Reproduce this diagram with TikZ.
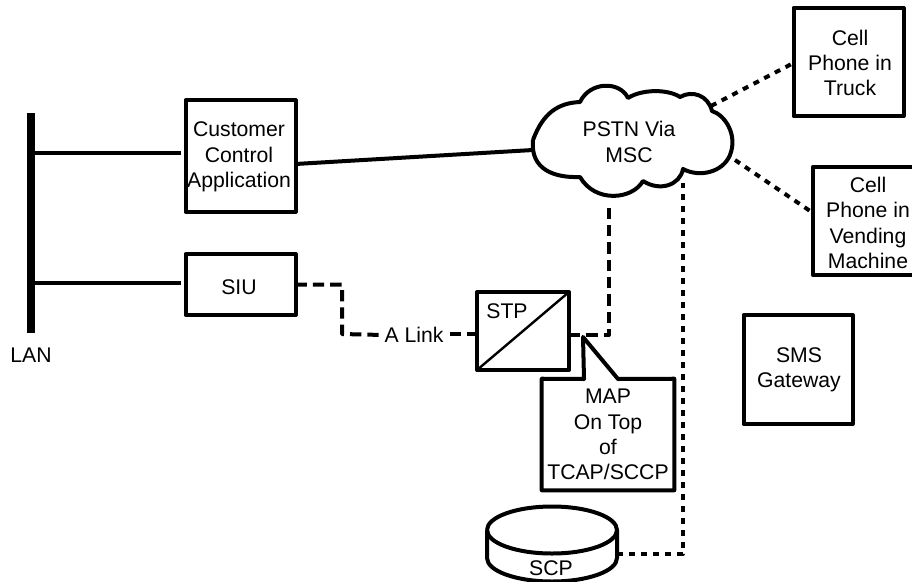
\documentclass[tikz,border=0pt]{standalone}
\usepackage{fontspec}
\setmainfont{Liberation Sans}
\usetikzlibrary{arrows}

\begin{document}
\begin{tikzpicture}[x=0.75pt,y=-0.75pt,line join=round,
                    heavy/.style={line width=3pt},
                    main node/.style={rectangle,draw,heavy,inner sep=0pt,outer sep=0pt},
                    text node/.style={inner sep=1pt,align=center,font=\fontsize{15.9}{19}\selectfont},
                    dash link/.style={heavy,dash pattern=on 8.5pt off 4.5pt},
                    dot link/.style={heavy,dash pattern=on 4.5pt off 4.5pt}]
  \useasboundingbox (0,0) rectangle (912,581);
  \clip (0,0) rectangle (912,581);
  \node[fill=black,inner sep=0pt,minimum width=6pt,minimum height=165pt] (lan) at (31,223) {};
  \node[text node] (lan label) at (31,355) {LAN};
  \node[main node,minimum width=82.5pt,minimum height=83.25pt] (customer) at (240.5,156) {};
  \node[text node] (customer label) at (239,157) {Customer\\Control\\Application};
  \node[main node,minimum width=82.5pt,minimum height=45.75pt] (siu) at (240.5,284.5) {};
  \node[text node] (siu label) at (239,287) {SIU};
  \node[main node,minimum width=69pt,minimum height=58.5pt] (stp) at (523,331) {};
  \node[text node] (stp label) at (507,311) {STP};
  \node[text node] (alink) at (414,335) {A Link};
  \node[text node] (cloud) at (629,142) {PSTN Via\\MSC};
  \node[main node,minimum width=82.5pt,minimum height=81.4pt] (truck) at (848.5,62) {};
  \node[text node] (truck label) at (850,63) {Cell\\Phone in\\Truck};
  \node[main node,minimum width=82.5pt,minimum height=81.4pt] (vending) at (868,221) {};
  \node[text node] (vending label) at (868,223) {Cell\\Phone in\\Vending\\Machine};
  \node[main node,minimum width=81.75pt,minimum height=81.75pt] (sms) at (798,369.5) {};
  \node[text node] (sms label) at (799,370) {SMS\\Gateway};
  \node[text node,minimum width=99pt,minimum height=83.25pt] (map) at (608,434.5) {MAP\\On Top\\of\\TCAP/SCCP};
  \node[text node] (scp) at (551,568) {SCP};

  \coordinate (cust port) at (181,153);
  \coordinate (siu port) at (181,283);
  \coordinate (siu corner) at (342,334);
  \coordinate (alink port) at (450,334);
  \coordinate (stp port) at (569,335);
  \coordinate (stp corner) at (609,335);
  \coordinate (cloud west) at (533,150);
  \coordinate (cloud bottom) at (609,207);
  \coordinate (cloud sms) at (683,183);
  \coordinate (cloud truck) at (711,106);
  \coordinate (cloud cell) at (735,160);
  \coordinate (scp port) at (617,554);
  \coordinate (scp corner) at (683,554);

  % cloud outline
  \draw[heavy] (533,140) .. controls (543,113) and (558,103) .. (580,102)
    .. controls (590,81) and (620,81) .. (628,98)
    .. controls (642,89) and (668,89) .. (680,97)
    .. controls (692,90) and (708,95) .. (712,111)
    .. controls (725,115) and (738,135) .. (730,155)
    .. controls (723,172) and (700,178) .. (683,169)
    .. controls (680,185) and (660,192) .. (643,181)
    .. controls (632,200) and (595,203) .. (580,177)
    .. controls (555,178) and (530,170) .. (533,140);
  % callout
  \draw[heavy] (map.north west) -- (584,379) -- (583,337) -- (618,379) -- (map.north east)
    -- (map.south east) -- (map.south west) -- cycle;
  % disk
  \draw[heavy] (487,530) arc[start angle=180,end angle=-180,x radius=65,y radius=23.5];
  \draw[heavy] (487,530) -- (487,558) arc[start angle=180,end angle=0,x radius=65,y radius=23.5] -- (617,530);

  \draw[line width=1.8pt] (stp.south west) -- (stp.north east);
  \path[heavy]
    (cust port -| lan.east) edge (cust port)
    (siu port -| lan.east) edge (siu port)
    (customer.east |- 0,164) edge (cloud west);
  \draw[dash link] (siu.east) -| (siu corner) -- (alink.west);
  \draw[dash link] (alink port) -- (alink port -| stp.west);
  \draw[dash link] (stp port) -- (stp corner) -- (cloud bottom);
  \draw[dot link] (scp port) -- (scp corner) -- (cloud sms);
  \draw[dot link] (cloud truck) -- (truck.west |- 0,63);
  \draw[dot link] (cloud cell) -- (vending.west |- 0,213);
\end{tikzpicture}
\end{document}
